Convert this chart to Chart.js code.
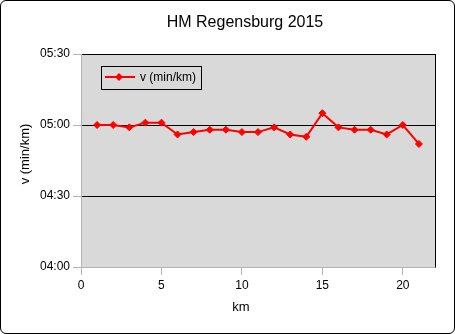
<!DOCTYPE html>
<html lang="de">
<head>
    <meta charset="UTF-8">
    <title>HM Regensburg 2015</title>
    <script src="https://cdn.jsdelivr.net/npm/chart.js"></script>
    <style>
        body { margin: 0; background: #fff; }
        #wrap {
            width: 453px; height: 332px;
            border: 1px solid #000; border-radius: 6px;
            overflow: hidden; position: relative; background: #fff;
        }
    </style>
</head>
<body>
    <div id="wrap"><canvas id="paceChart"></canvas></div>

    <script>
        // km marks and pace per km (seconds per km)
        const km = [1, 2, 3, 4, 5, 6, 7, 8, 9, 10, 11, 12, 13, 14, 15, 16, 17, 18, 19, 20, 21];
        const paceSec = [300, 300, 299, 301, 301, 296, 297, 298, 298, 297, 297, 299, 296, 295, 305, 299, 298, 298, 296, 300, 292];
        const yTicks = [240, 270, 300, 330];
        const xTicks = [0, 5, 10, 15, 20];

        const fontFamily = '"Liberation Sans", Arial, sans-serif';

        function fmtPace(sec) {
            const m = Math.floor(sec / 60);
            const s = Math.round(sec % 60);
            return String(m).padStart(2, '0') + ':' + String(s).padStart(2, '0');
        }

        const chartDecor = {
            id: 'chartDecor',
            beforeDraw(chart) {
                const { ctx, chartArea: a } = chart;
                ctx.save();
                ctx.fillStyle = '#d9d9d9';
                ctx.fillRect(a.left, a.top, a.right - a.left, a.bottom - a.top);
                ctx.restore();
            },
            beforeDatasetsDraw(chart) {
                const { ctx, chartArea: a } = chart;
                ctx.save();
                ctx.strokeStyle = '#000';
                ctx.lineWidth = 1;
                ctx.beginPath();
                ctx.moveTo(a.right + 0.5, a.top);
                ctx.lineTo(a.right + 0.5, a.bottom + 0.5);
                ctx.stroke();
                ctx.restore();
            },
            afterDraw(chart) {
                const ctx = chart.ctx;
                const ds = chart.data.datasets[0];
                ctx.save();
                ctx.fillStyle = '#000';
                ctx.textAlign = 'center';
                ctx.textBaseline = 'middle';

                // chart title
                ctx.font = '16px ' + fontFamily;
                ctx.fillText('HM Regensburg 2015', 244, 22);

                // axis titles
                ctx.font = '13px ' + fontFamily;
                ctx.fillText('km', 240, 306);
                ctx.save();
                ctx.translate(24, 153);
                ctx.rotate(-Math.PI / 2);
                ctx.fillText('v (min/km)', 0, 0);
                ctx.restore();

                // legend inside the plot area
                ctx.strokeStyle = '#000';
                ctx.lineWidth = 1;
                ctx.strokeRect(100.5, 65.5, 100, 23);
                ctx.strokeStyle = ds.borderColor;
                ctx.lineWidth = 2;
                ctx.beginPath();
                ctx.moveTo(104, 76);
                ctx.lineTo(134, 76);
                ctx.stroke();
                ctx.fillStyle = ds.pointBackgroundColor;
                ctx.beginPath();
                ctx.moveTo(118, 72);
                ctx.lineTo(122, 76);
                ctx.lineTo(118, 80);
                ctx.lineTo(114, 76);
                ctx.closePath();
                ctx.fill();
                ctx.fillStyle = '#000';
                ctx.font = '12px ' + fontFamily;
                ctx.textAlign = 'left';
                ctx.fillText(ds.label, 139, 77);
                ctx.restore();
            }
        };

        new Chart(document.getElementById('paceChart'), {
            type: 'line',
            data: {
                datasets: [{
                    label: 'v (min/km)',
                    data: km.map((k, i) => ({ x: k, y: paceSec[i] })),
                    borderColor: '#ff0000',
                    backgroundColor: '#ff0000',
                    pointBackgroundColor: '#ff0000',
                    pointBorderColor: '#ff0000',
                    borderWidth: 2,
                    pointStyle: 'rectRot',
                    pointRadius: 3.5,
                    pointBorderWidth: 1,
                    tension: 0
                }]
            },
            options: {
                responsive: true,
                maintainAspectRatio: false,
                animation: false,
                layout: { padding: { top: 53, right: 19, bottom: 0, left: 0 } },
                plugins: {
                    legend: { display: false },
                    title: { display: false },
                    tooltip: { enabled: false }
                },
                scales: {
                    x: {
                        type: 'linear',
                        min: 0,
                        max: 22,
                        afterBuildTicks: s => { s.ticks = xTicks.map(v => ({ value: v })); },
                        afterFit: s => { s.height = 66; },
                        grid: { drawOnChartArea: false, tickLength: 8, tickColor: '#b3b3b3' },
                        border: { color: '#b3b3b3' },
                        ticks: { color: '#000', font: { family: fontFamily, size: 12 }, padding: 3 },
                        title: { display: false }
                    },
                    y: {
                        min: 240,
                        max: 330,
                        afterBuildTicks: s => { s.ticks = yTicks.map(v => ({ value: v })); },
                        afterFit: s => { s.width = 80; },
                        grid: {
                            color: c => c.index === 0 ? 'rgba(0,0,0,0)' : '#000',
                            tickLength: 8,
                            tickColor: '#b3b3b3'
                        },
                        border: { color: '#b3b3b3' },
                        ticks: {
                            color: '#000',
                            font: { family: fontFamily, size: 12 },
                            padding: 3,
                            callback: v => fmtPace(v)
                        },
                        title: { display: false }
                    }
                }
            },
            plugins: [chartDecor]
        });
    </script>
</body>
</html>
